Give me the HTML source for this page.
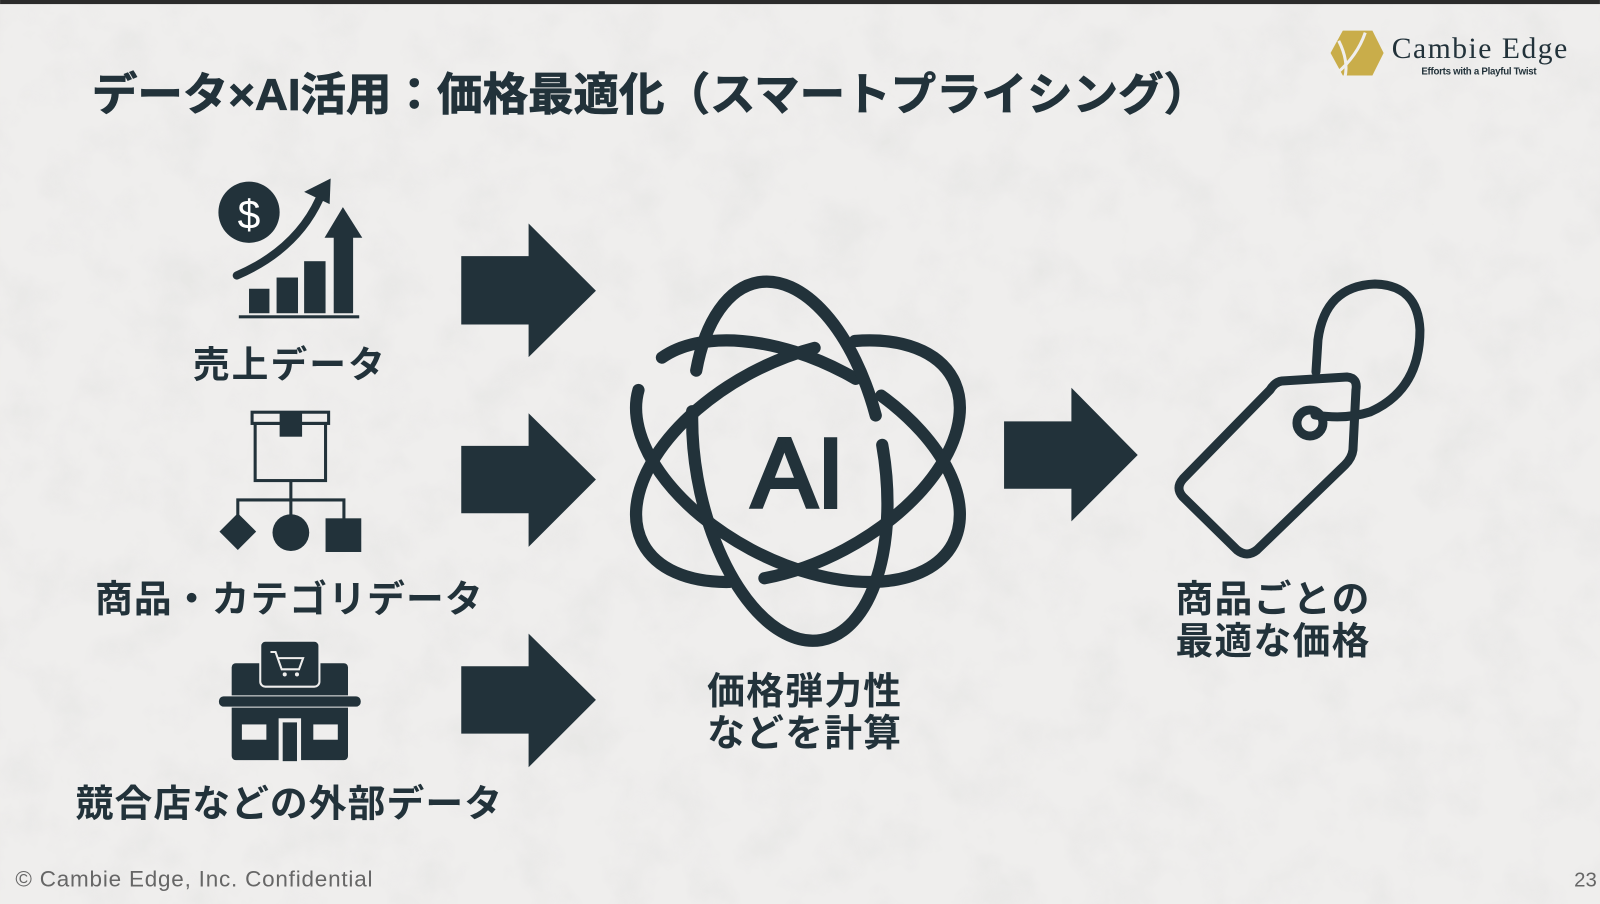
<!DOCTYPE html>
<html><head><meta charset="utf-8"><style>
html,body{margin:0;padding:0;width:1600px;height:904px;overflow:hidden;background:#ecebea}
svg{display:block}
text{font-family:"Liberation Sans","Noto Sans CJK JP",sans-serif;fill:#22323a;font-weight:bold}
</style></head><body>
<svg width="1600" height="904" viewBox="0 0 1568 886" xmlns="http://www.w3.org/2000/svg">
<defs>
<filter id="n" x="0" y="0" width="100%" height="100%">
<feTurbulence type="fractalNoise" baseFrequency="0.02" numOctaves="5" seed="3"/>
<feColorMatrix values="0 0 0 0 0.78  0 0 0 0 0.78  0 0 0 0 0.77  0 0 0 -2.2 1.25"/>
</filter>
</defs>
<rect width="1568" height="886" fill="#efeeed"/>
<rect width="1568" height="886" filter="url(#n)" opacity="0.6"/>
<rect width="1568" height="4" fill="#2b2b2b"/>

<text x="90" y="108" font-size="44" textLength="1095" lengthAdjust="spacingAndGlyphs" stroke="#22323a" stroke-width="0.8">データ×AI活用：価格最適化（スマートプライシング）</text>

<polygon points="1316,30 1345,30 1356,52 1345,74 1316,74 1304,52" fill="#c9ad4a"/>
<path d="M1312,40 Q1322,60 1318,76 M1338,32 Q1330,55 1310,72" stroke="#efeeed" stroke-width="3" fill="none"/>
<text x="1364" y="57" font-size="29" style="font-family:'Liberation Serif',serif;font-weight:normal" fill="#111" textLength="172">Cambie Edge</text>
<text x="1393" y="73" font-size="9.5" fill="#222" textLength="113">Efforts with a Playful Twist</text>

<circle cx="244" cy="208" r="30" fill="#22323a"/>
<text x="244" y="224" font-size="40" text-anchor="middle" style="font-weight:normal;fill:#fff">$</text>
<path d="M232,270 Q290,245 313,195" stroke="#22323a" stroke-width="8" fill="none" stroke-linecap="round"/>
<polygon points="324,175 298,188 323,200" fill="#22323a"/>
<rect x="244" y="283" width="20" height="24" fill="#22323a"/>
<rect x="271" y="272" width="21" height="35" fill="#22323a"/>
<rect x="298" y="256" width="21" height="51" fill="#22323a"/>
<rect x="327" y="228" width="19" height="79" fill="#22323a"/>
<polygon points="318,233 336,203 355,233" fill="#22323a"/>
<rect x="234" y="309" width="118" height="3" fill="#22323a"/>
<text x="283" y="370" font-size="36" text-anchor="middle" textLength="188">売上データ</text>

<g stroke="#22323a" stroke-width="3" fill="none">
<rect x="247" y="404" width="75" height="11"/>
<rect x="250" y="415" width="69" height="56"/>
<path d="M285,471 V490 M233,505 V490 H337 V510 M285,490 V505"/>
</g>
<rect x="274" y="404" width="22" height="24" fill="#22323a"/>
<polygon points="233,503 251,521 233,539 215,521" fill="#22323a"/>
<circle cx="285" cy="522" r="18" fill="#22323a"/>
<rect x="319" y="508" width="35" height="33" fill="#22323a"/>
<text x="283" y="600" font-size="37" text-anchor="middle" textLength="380">商品・カテゴリデータ</text>

<rect x="227" y="650" width="114" height="95" rx="4" fill="#22323a"/>
<rect x="255" y="628" width="58" height="45" rx="5" fill="#22323a" stroke="#efeeed" stroke-width="2"/>
<path d="M265,639 H270 L276,656 H293 L297,645 H272" stroke="#efeeed" stroke-width="2" fill="none"/>
<circle cx="279" cy="661" r="2" fill="#efeeed"/><circle cx="291" cy="661" r="2" fill="#efeeed"/>
<rect x="214" y="682" width="140" height="11" rx="5" fill="#22323a" stroke="#efeeed" stroke-width="1"/>
<rect x="237" y="710" width="24" height="15" fill="#efeeed"/>
<rect x="307" y="710" width="24" height="15" fill="#efeeed"/>
<rect x="273" y="704" width="22" height="42" fill="#efeeed"/>
<rect x="277" y="708" width="14" height="38" fill="#22323a"/>
<text x="283" y="800" font-size="37" text-anchor="middle" textLength="418">競合店などの外部データ</text>

<g fill="#22323a">
<polygon points="452,251 518,251 518,219 584,285 518,350 518,318 452,318"/>
<polygon points="452,437 518,437 518,405 584,470 518,536 518,503 452,503"/>
<polygon points="452,653 518,653 518,621 584,686 518,752 518,719 452,719"/>
<polygon points="984,413 1050,413 1050,380 1115,446 1050,511 1050,479 984,479"/>
</g>

<g stroke="#22323a" stroke-width="12" fill="none" stroke-linecap="round">
<ellipse cx="782" cy="452" rx="172" ry="98" transform="rotate(28 782 452)" stroke-dasharray="420 40 200 30 800"/>
<ellipse cx="782" cy="452" rx="172" ry="98" transform="rotate(-28 782 452)" stroke-dasharray="300 35 380 40 800"/>
<ellipse cx="774" cy="452" rx="92" ry="178" transform="rotate(-10 774 452)" stroke-dasharray="500 40 300 30 800"/>
</g>
<text x="782" y="497" font-size="96" text-anchor="middle" style="font-weight:normal" stroke="#22323a" stroke-width="4">AI</text>
<text x="788" y="690" font-size="37" text-anchor="middle" textLength="190">価格弾力性</text>
<text x="788" y="731" font-size="37" text-anchor="middle" textLength="190">などを計算</text>

<g transform="scale(0.98)" stroke="#22323a" stroke-width="9" fill="none" stroke-linejoin="round" stroke-linecap="round">
<path d="M1282,381 L1347,377 Q1358,378 1356,390 L1353,450 Q1352,458 1345,465 L1257,550 Q1247,558 1237,550 L1183,497 Q1175,488 1183,479 L1270,390 Q1275,382 1282,381 Z"/>
<circle cx="1310" cy="423" r="13"/>
<path d="M1315,415 Q1345,420 1370,412 Q1420,390 1420,330 Q1418,285 1375,284 Q1325,286 1318,340 L1316,372"/>
</g>
<text x="1247" y="600" font-size="37" text-anchor="middle" textLength="190">商品ごとの</text>
<text x="1247" y="641" font-size="37" text-anchor="middle" textLength="190">最適な価格</text>

<text x="15" y="869" font-size="22" style="font-weight:normal;fill:#666" textLength="350">© Cambie Edge, Inc. Confidential</text>
<text x="1565" y="869" font-size="20" text-anchor="end" style="font-weight:normal;fill:#666">23</text>
</svg>
</body></html>
